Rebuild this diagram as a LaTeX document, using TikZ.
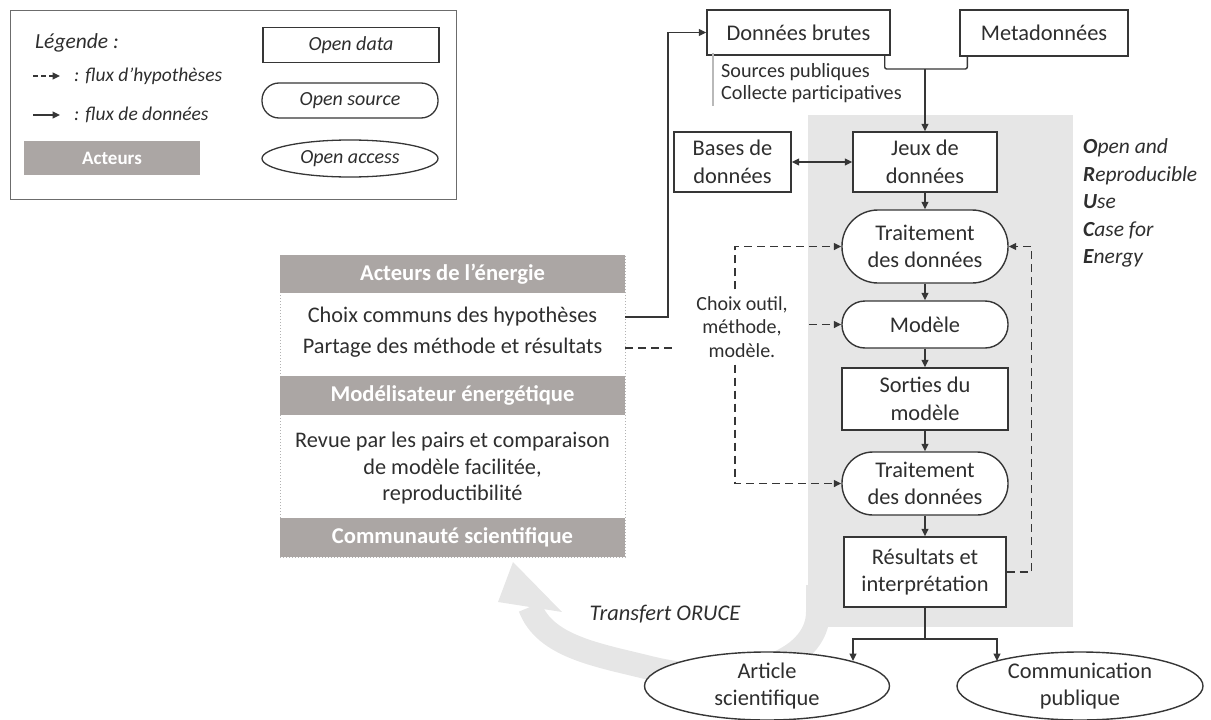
\documentclass[tikz,border=0pt]{standalone}
\usepackage{fontspec}
\setmainfont{Carlito}
\usetikzlibrary{arrows.meta,shapes.geometric,calc}
\definecolor{ln}{HTML}{363636}
\definecolor{tx}{HTML}{2E2E2E}
\definecolor{hdr}{HTML}{ABA6A4}
\definecolor{bgc}{HTML}{E6E6E6}
\begin{document}
\begin{tikzpicture}[x=1pt,y=-1pt,
  every node/.style={inner sep=0pt,text=tx},
  lbl/.style={font=\fontsize{22.4}{27.5}\selectfont,align=center},
  small/.style={font=\fontsize{20.2}{22.5}\selectfont},
  boxn/.style={lbl,draw=ln,line width=1.4pt,fill=white},
  pill/.style={boxn,rounded corners=#1},
  ell/.style={lbl,draw=ln,line width=1.4pt,fill=white,ellipse},
  hdrn/.style={fill=hdr,text=white,font=\fontsize{22.6}{26}\selectfont\bfseries,minimum width=345pt,minimum height=38.5pt},
  legbox/.style={draw=ln,line width=1.3pt,font=\fontsize{20}{23}\selectfont\itshape,minimum width=176pt,minimum height=35pt},
  arr/.style={draw=ln,line width=1.4pt,-{Triangle[width=7pt,length=7.5pt]}},
  hyp/.style={draw=ln,line width=1.5pt,dash pattern=on 8pt off 5pt},
  hypa/.style={hyp,-{Triangle[width=7pt,length=7.5pt]}}
]
\useasboundingbox (0,0) rectangle (1211,720);

% ---------- legend ----------
\node[draw=gray!85!black,line width=1pt,minimum width=446pt,minimum height=189pt] (legend) at (233,104.5) {};
\node[anchor=west,font=\fontsize{21.5}{25}\selectfont\itshape] (legt) at (35,43) {Légende :};
\coordinate (ld1) at (33,76); \coordinate (ld2) at (60,76);
\draw[draw=ln,line width=1.4pt,dash pattern=on 4.5pt off 3.5pt,-{Triangle[width=7pt,length=7.5pt]}] (ld1) -- (ld2);
\node[anchor=west,font=\fontsize{19.5}{23}\selectfont\itshape] (legh) at (74,76) {: flux d’hypothèses};
\coordinate (ls1) at (33,115); \coordinate (ls2) at (60,115);
\draw[arr] (ls1) -- (ls2);
\node[anchor=west,font=\fontsize{19.5}{23}\selectfont\itshape] (legd) at (74,115) {: flux de données};
\node[fill=hdr,text=white,font=\fontsize{19}{22}\selectfont\bfseries,minimum width=176pt,minimum height=34pt] (lega) at (112,158) {Acteurs};
\node[legbox] (lod) at (351,45) {Open data};
\node[legbox,rounded corners=17pt] (los) at (350,100.5) {Open source};
\node[legbox,ellipse,minimum height=37pt] (loa) at (350,158.5) {Open access};

% ---------- background ----------
\node[fill=bgc,minimum width=265pt,minimum height=512pt] (bg) at (940.5,371) {};
\draw[bgc,line width=24pt] (818,585) -- (818,612) .. controls (818,662) and (740,690) .. (650,668) .. controls (598,655) and (545,647) .. (530,607);
\fill[bgc] (513,562) -- (498,602) -- (562,612) -- cycle;
\node[font=\fontsize{22.4}{26}\selectfont\itshape] (transf) at (665,614) {Transfert ORUCE};

% ---------- ORUCE text ----------
\node[anchor=west,align=left,font=\fontsize{21.5}{27.5}\selectfont\itshape] (oruce) at (1083,203)
  {\textbf{O}pen and\\\textbf{R}eproducible\\\textbf{U}se\\\textbf{C}ase for\\\textbf{E}nergy};

% ---------- top ----------
\node[boxn,minimum width=183pt,minimum height=45pt] (brutes) at (798.5,32.5) {Données brutes};
\node[boxn,minimum width=168pt,minimum height=46pt] (meta) at (1044,33) {Metadonnées};
\node[small,anchor=west,align=left] (src) at (721,83) {Sources publiques\\Collecte participatives};
\draw[gray!55,line width=1.5pt] ($(src.north west)+(-8,-10)$) -- ($(src.south west)+(-8,3)$);

\node[boxn,minimum width=144pt,minimum height=60pt] (jeux) at (925,162) {Jeux de\\données};
\node[boxn,minimum width=117pt,minimum height=60pt] (bases) at (732.5,162) {Bases de\\données};
\node[pill=36pt,minimum width=166pt,minimum height=73pt] (trait1) at (925,246.5) {Traitement\\des données};
\node[pill=23pt,minimum width=166pt,minimum height=47pt] (modele) at (925,324.5) {Modèle};
\node[boxn,minimum width=166pt,minimum height=62pt] (sorties) at (925,399) {Sorties du\\modèle};
\node[pill=31pt,minimum width=166pt,minimum height=63pt] (trait2) at (925,483.5) {Traitement\\des données};
\node[boxn,minimum width=162pt,minimum height=70pt] (result) at (925,572) {Résultats et\\interprétation};
\node[ell,minimum width=245pt,minimum height=68pt] (article) at (767,686) {Article\\scientifique};
\node[ell,minimum width=246pt,minimum height=68pt] (comm) at (1080,686) {Communication\\publique};

% bracket brutes/meta -> jeux
\coordinate (jn) at (925,69);
\draw[draw=ln,line width=1.4pt,rounded corners=2pt] ($(brutes.south east)+(-6,0)$) |- (jn) -| ($(meta.south west)+(8,0)$);
\draw[arr] (jn) -- (jeux.north);
\draw[draw=ln,line width=1.4pt,{Triangle[width=7pt,length=7.5pt]}-{Triangle[width=7pt,length=7.5pt]}] (bases.east) -- (jeux.west);
\draw[arr] (jeux.south) -- (trait1.north);
\draw[arr] (trait1.south) -- (modele.north);
\draw[arr] (modele.south) -- (sorties.north);
\draw[arr] (sorties.south) -- (trait2.north);
\draw[arr] (trait2.south) -- (result.north);
\coordinate (rj) at (925,639);
\draw[draw=ln,line width=1.4pt] (result.south) -- (rj);
\draw[arr] (rj) -| ($(article.center)+(86,-25)$);
\draw[arr] (rj) -| ($(comm.center)+(-83,-25)$);
\draw[hypa] (result.east) -- ++(25,0) |- (trait1.east);

% ---------- actors panel ----------
\node[draw=gray!60,dotted,line width=1pt,minimum width=345pt,minimum height=302pt] (panel) at (452.5,406) {};
\node[hdrn] (h1) at (452.5,274) {Acteurs de l’énergie};
\node[hdrn] (h2) at (452.5,395.5) {Modélisateur énergétique};
\node[hdrn] (h3) at (452.5,537.5) {Communauté scientifique};
\node[font=\fontsize{22.3}{31}\selectfont,align=center] (body1) at (452.5,332.5) {Choix communs des hypothèses\\Partage des méthode et résultats};
\node[font=\fontsize{22.3}{26.5}\selectfont,align=center] (body2) at (452.5,468.5) {Revue par les pairs et comparaison\\de modèle facilitée,\\reproductibilité};

% connectors from panel
\coordinate (a1) at (625,317);
\coordinate (turn) at (668,317);
\draw[arr] (a1) -- (turn) |- (brutes.west);
\node[font=\fontsize{20}{23.5}\selectfont,align=center,inner xsep=21pt,inner ysep=7pt] (choix) at (742,327) {Choix outil,\\méthode,\\modèle.};
\coordinate (a2) at (625,348);
\draw[hyp] (a2) -- (a2 -| choix.west);
\coordinate (vx) at (735,0);
\draw[hypa] (choix.north -| vx) |- (trait1.west);
\draw[hypa] (choix.east |- modele.west) -- (modele.west);
\draw[hypa] (choix.south -| vx) |- (trait2.west);
\end{tikzpicture}
\end{document}
